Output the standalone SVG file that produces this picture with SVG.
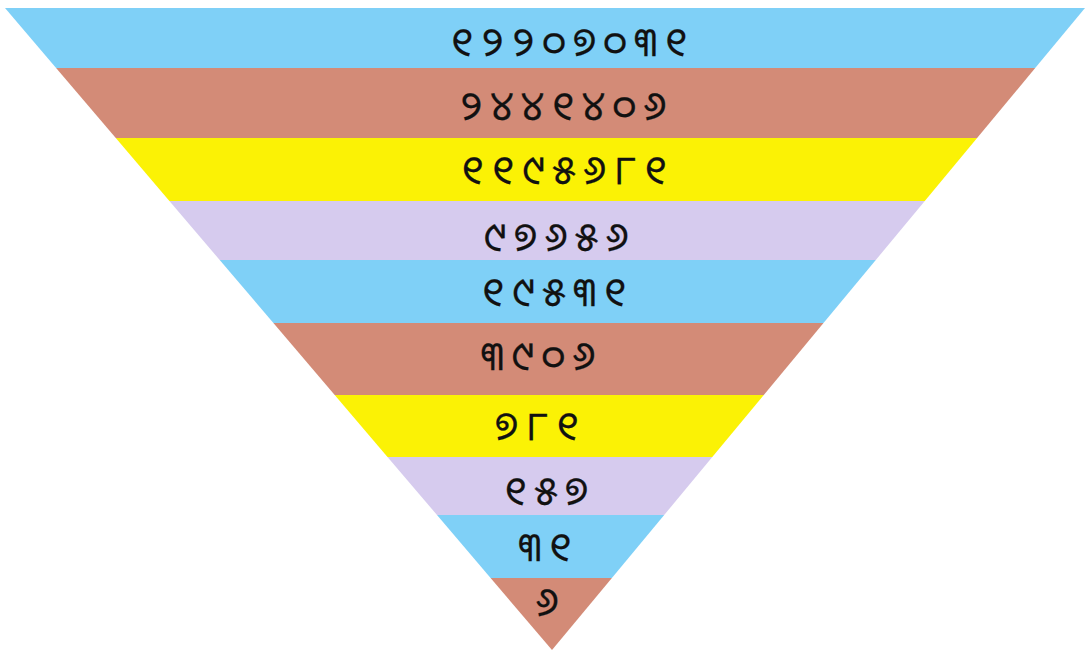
<svg xmlns="http://www.w3.org/2000/svg" width="1088" height="653" viewBox="0 0 1088 653">
<style>
.blue{fill:#7fd0f7}
.brown{fill:#d38b77}
.yellow{fill:#fbf205}
.lav{fill:#d6cbee}
.num{font-family:"Noto Sans Oriya","Lohit Odia","Noto Sans","DejaVu Sans",sans-serif;font-size:40px;fill:#111;stroke:#111;stroke-width:0.25;text-anchor:middle;dominant-baseline:central;letter-spacing:8px}
</style>
<rect width="1088" height="653" fill="#ffffff"/>
<g id="band1"><polygon class="blue" points="5,8 1085,8 1035.2,68 56.1,68"/><text class="num" x="573" y="40">୧୨୨୦୭୦୩୧</text></g>
<g id="band2"><polygon class="brown" points="56.1,68 1035.2,68 977.1,138 115.8,138"/><text class="num" x="567" y="104">୨୪୪୧୪୦୬</text></g>
<g id="band3"><polygon class="yellow" points="115.8,138 977.1,138 924.8,201 169.4,201"/><text class="num" x="568" y="168">୧୧୯୫୬୮୧</text></g>
<g id="band4"><polygon class="lav" points="169.4,201 924.8,201 875.8,260 219.7,260"/><text class="num" x="560" y="235">୯୭୬୫୬</text></g>
<g id="band5"><polygon class="blue" points="219.7,260 875.8,260 823.5,323 273.4,323"/><text class="num" x="558" y="290">୧୯୫୩୧</text></g>
<g id="band6"><polygon class="brown" points="273.4,323 823.5,323 763.8,395 334.7,395"/><text class="num" x="542" y="354">୩୯୦୬</text></g>
<g id="band7"><polygon class="yellow" points="334.7,395 763.8,395 712.3,457 387.5,457"/><text class="num" x="541" y="424">୭୮୧</text></g>
<g id="band8"><polygon class="lav" points="387.5,457 712.3,457 664.2,515 437,515"/><text class="num" x="550" y="489">୧୫୭</text></g>
<g id="band9"><polygon class="blue" points="437,515 664.2,515 611.9,578 490.6,578"/><text class="num" x="549" y="545">୩୧</text></g>
<g id="band10"><polygon class="brown" points="490.6,578 611.9,578 552,650"/><text class="num" x="551" y="600">୬</text></g>
</svg>
